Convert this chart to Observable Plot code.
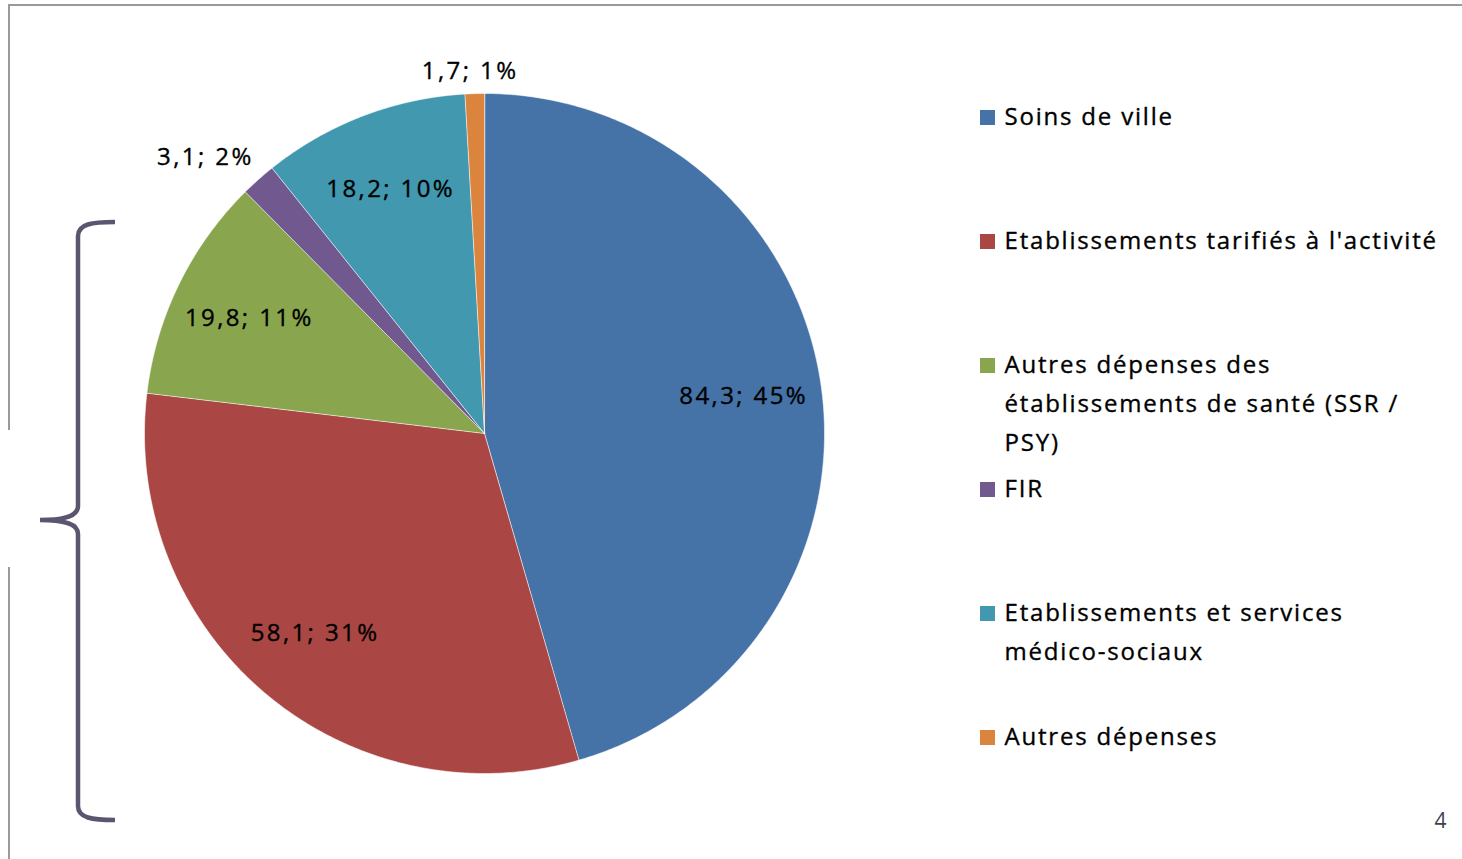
<!DOCTYPE html>
<html>
<head>
<meta charset="utf-8">
<script src="https://cdn.jsdelivr.net/npm/d3@7"></script>
<script src="https://cdn.jsdelivr.net/npm/@observablehq/plot@0.6"></script>
<style>
  html, body { margin: 0; padding: 0; background: #fff; }
  #wrap { position: relative; width: 1462px; height: 859px; overflow: hidden; }
  #chart { position: absolute; left: 0; top: 0; }
  .frame-top { position: absolute; left: 8px; top: 4px; width: 1454px; height: 2px; background: #9a9a9a; }
  .frame-left1 { position: absolute; left: 8px; top: 4px; width: 2px; height: 426px; background: #9a9a9a; }
  .frame-left2 { position: absolute; left: 8px; top: 567px; width: 2px; height: 292px; background: #9a9a9a; }
  #brace { position: absolute; left: 0; top: 0; }
  text { font-family: "Open Sans", sans-serif; }
</style>
</head>
<body>
<div id="wrap">
  <div class="frame-top"></div>
  <div class="frame-left1"></div>
  <div class="frame-left2"></div>
  <div id="chart"></div>
  <svg id="brace" width="1462" height="859">
    <path d="M115,222 C92,222 78,224 78,236 L78,506 C78,516 66,520 40,520 C66,520 78,524 78,534 L78,806 C78,818 92,820 115,820"
          fill="none" stroke="#5c5570" stroke-width="4.5" stroke-linecap="butt"/>
  </svg>
</div>
<script>
// ---- data ----
const categories = [
  "Soins de ville",
  "Etablissements tarifiés à l'activité",
  "Autres dépenses des établissements de santé (SSR / PSY)",
  "FIR",
  "Etablissements et services médico-sociaux",
  "Autres dépenses"
];
const values = [84.3, 58.1, 19.8, 3.1, 18.2, 1.7];
const percents = [45, 31, 11, 2, 10, 1];
const colors = ["#4572A7", "#AA4643", "#89A54E", "#71588F", "#4198AF", "#DB843D"];
const legendLines = [
  ["Soins de ville"],
  ["Etablissements tarifiés à l'activité"],
  ["Autres dépenses des", "établissements de santé (SSR /", "PSY)"],
  ["FIR"],
  ["Etablissements et services", "médico-sociaux"],
  ["Autres dépenses"]
];
const pageNumber = "4";

// ---- layout ----
const W = 1462, H = 859;
const cx = 484, cy = 433, R = 340;
const font = "Open Sans, sans-serif";

const total = d3.sum(values);
let acc = 0;
const slices = values.map((v, i) => {
  const a0 = acc / total * 2 * Math.PI;
  acc += v;
  const a1 = acc / total * 2 * Math.PI;
  return {i, name: categories[i], value: v, pct: percents[i], color: colors[i], a0, a1, frac: v / total};
});

function wedgePoints(s) {
  const pts = [{x: cx, y: cy}];
  const n = Math.max(2, Math.ceil((s.a1 - s.a0) / (Math.PI / 360)));
  for (let k = 0; k <= n; k++) {
    const a = s.a0 + (s.a1 - s.a0) * k / n;
    pts.push({x: cx + R * Math.sin(a), y: cy - R * Math.cos(a)});
  }
  return pts;
}

const clamp1 = v => Math.max(-1, Math.min(1, v));
const labelData = slices.map(s => {
  const a = (s.a0 + s.a1) / 2;
  const txt = `${String(s.value).replace(".", ",")}; ${s.pct}%`;
  if (s.frac < 0.03) {
    // outside label: box placed next to the edge point of the slice
    const ex = cx + R * Math.sin(a), ey = cy - R * Math.cos(a);
    const hw = 53, hh = 22;
    return {txt, x: ex + clamp1(Math.sin(a) * 3) * hw, y: ey - clamp1(Math.cos(a) * 3) * hh};
  }
  const r = R * 0.77;
  return {txt, x: cx + r * Math.sin(a), y: cy - r * Math.cos(a)};
});

const legendX = 980, legendTextX = 1004, legendY0 = 117, legendStep = 124, lineStep = 39, sq = 15;
const legendSwatches = slices.map((s, i) => ({
  x1: legendX, x2: legendX + sq,
  y1: legendY0 + i * legendStep - sq / 2 + 0.5, y2: legendY0 + i * legendStep + sq / 2 + 0.5,
  color: s.color
}));
const legendText = legendLines.flatMap((lines, i) =>
  lines.map((t, k) => ({t, x: legendTextX, y: legendY0 + i * legendStep + k * lineStep}))
);

const plot = Plot.plot({
  width: W, height: H,
  margin: 0,
  x: {type: "linear", domain: [0, W], range: [0, W], axis: null},
  y: {type: "linear", domain: [0, H], range: [0, H], axis: null},
  style: {fontFamily: font, background: "transparent"},
  marks: [
    ...slices.map(s => Plot.line(wedgePoints(s), {
      x: "x", y: "y", fill: s.color, stroke: "#ffffff", strokeOpacity: 0.55, strokeWidth: 1,
      curve: "linear-closed"
    })),
    Plot.text(labelData, {
      x: "x", y: "y", text: "txt", fontSize: 24, fill: "#000",
      stroke: "#000", strokeWidth: 0.35,
      textAnchor: "middle", lineAnchor: "middle", className: "lbl"
    }),
    Plot.rect(legendSwatches, {x1: "x1", x2: "x2", y1: "y1", y2: "y2", fill: "color"}),
    Plot.text(legendText, {
      x: "x", y: "y", text: "t", fontSize: 24, fill: "#000",
      stroke: "#000", strokeWidth: 0.35,
      textAnchor: "start", lineAnchor: "middle", className: "leg"
    }),
    Plot.text([pageNumber], {
      x: () => 1440, y: () => 821, text: d => d, fontSize: 21, fill: "#3f3f52",
      textAnchor: "middle", lineAnchor: "middle"
    })
  ]
});
plot.querySelectorAll(".lbl text").forEach(t => t.style.letterSpacing = "2.4px");
plot.querySelectorAll(".leg text").forEach(t => t.style.letterSpacing = "1.8px");
document.getElementById("chart").appendChild(plot);
</script>
</body>
</html>
